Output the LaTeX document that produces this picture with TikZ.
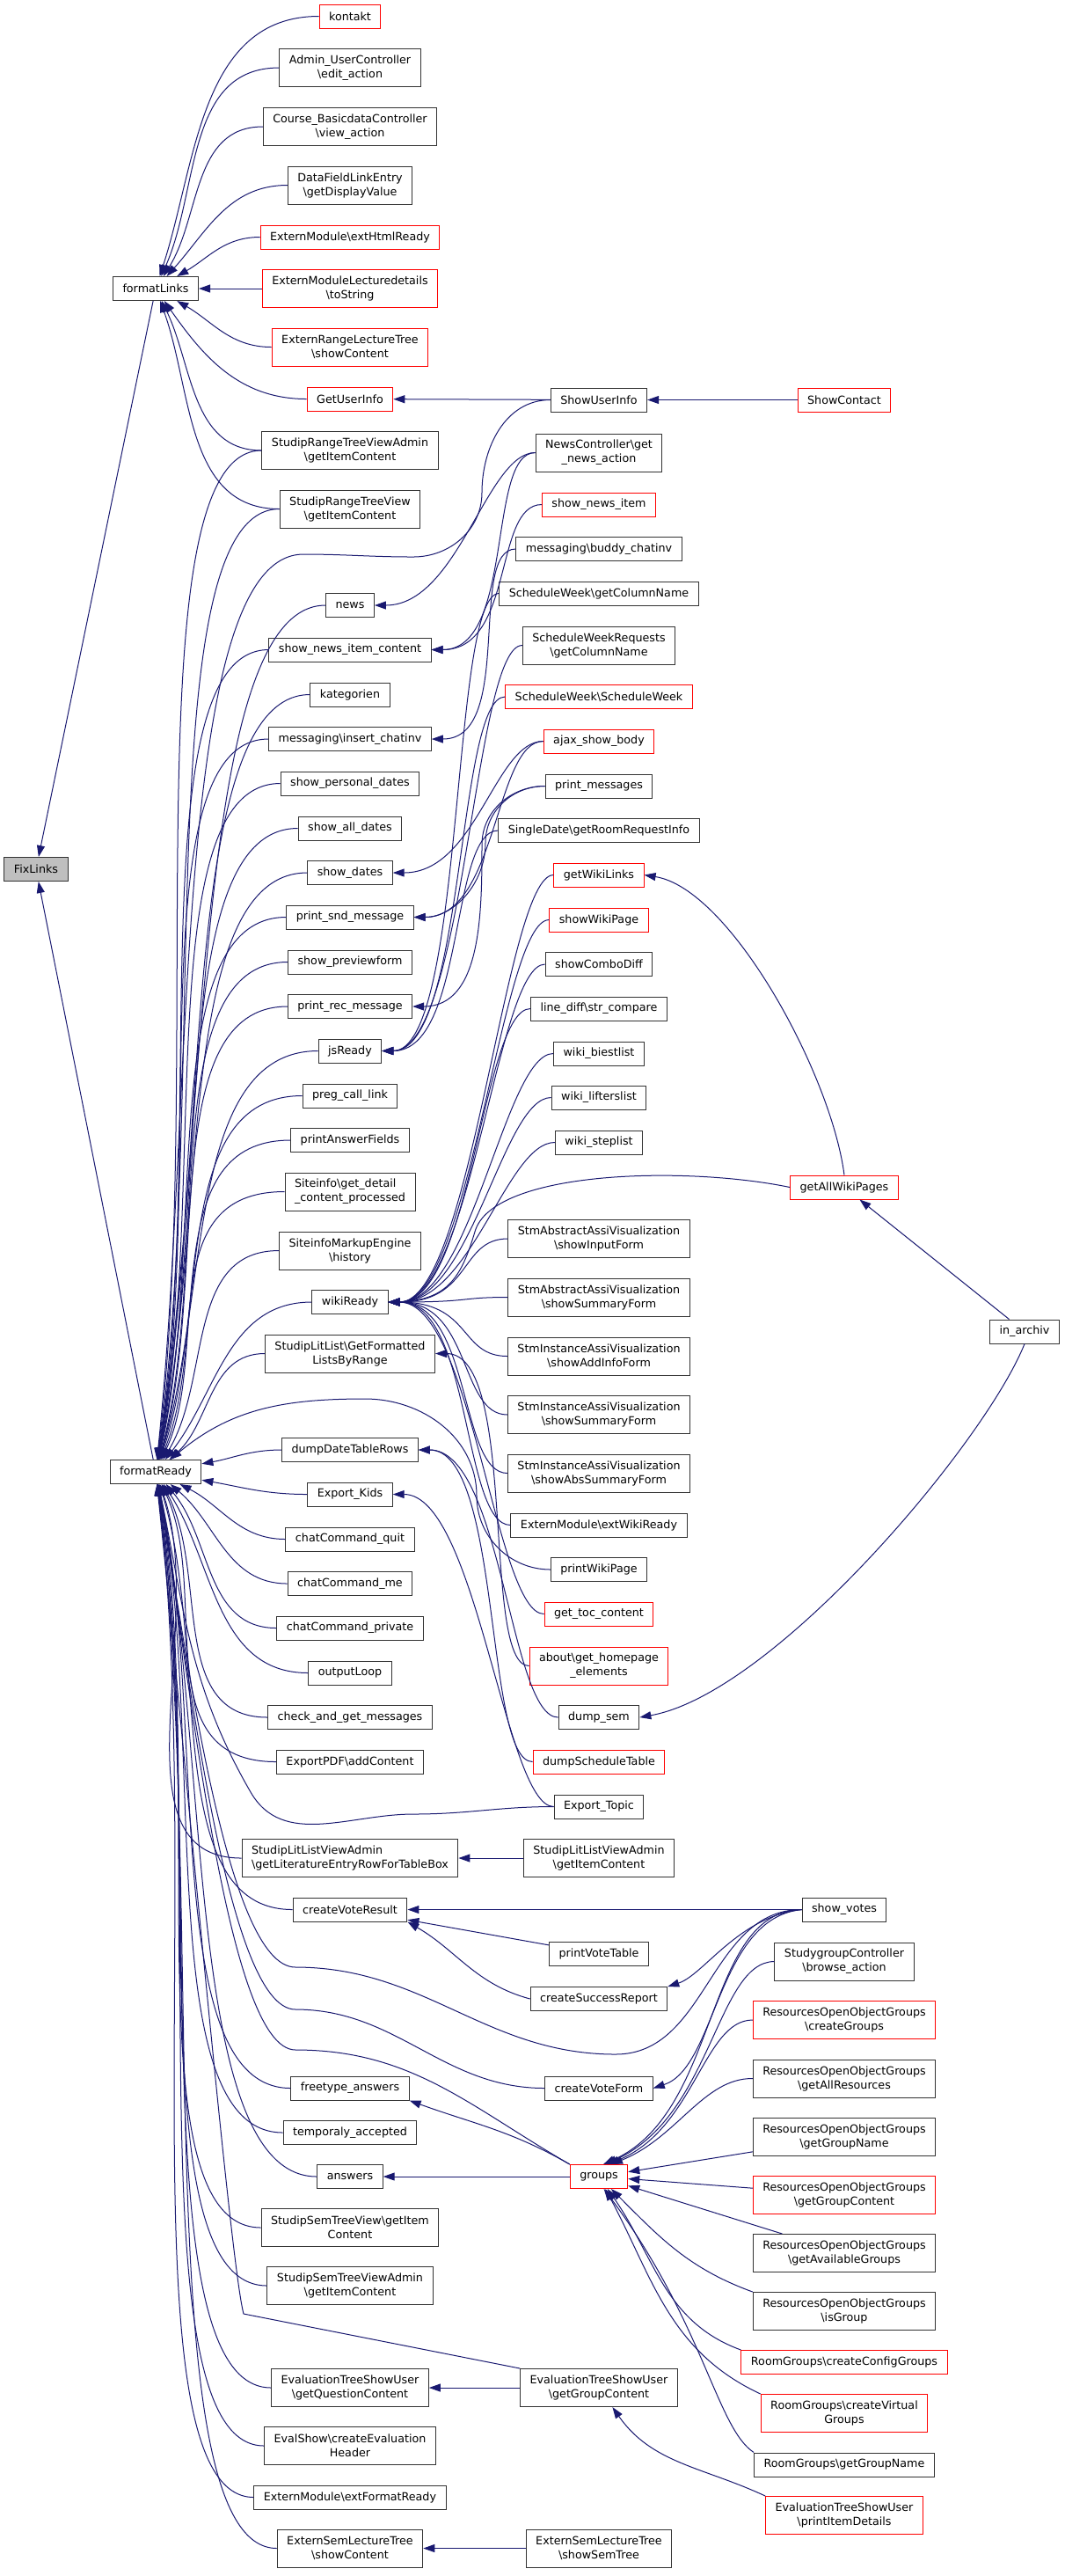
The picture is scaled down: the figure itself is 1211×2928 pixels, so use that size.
\documentclass[tikz,border=0pt]{standalone}
\usepackage{fontspec}
\setmainfont{DejaVu Sans}
\usetikzlibrary{arrows.meta}
\definecolor{edgeblue}{HTML}{191970}
\definecolor{nodegray}{HTML}{BFBFBF}
\definecolor{linkred}{HTML}{FF0000}
\newcommand{\bks}{\textbackslash}

\begin{document}
\begin{tikzpicture}[
    x=0.25pt, y=0.25pt,
    fnbox/.style={draw=black!80, line width=0.25pt, fill=white, font=\fontsize{3.175}{4}\selectfont,
                  inner xsep=2.75pt, inner ysep=0.5pt, minimum height=6.75pt, align=center},
    tall/.style={minimum height=10.75pt},
    undoc/.style={draw=linkred},
    link/.style={draw=edgeblue, line width=0.25pt, -{Triangle[length=3.25pt,width=2.25pt]}},
    longin/.style={out=180, out distance=37.5pt, in looseness=1},
    lane/.style={out=180, in=0, out distance=13.75pt, in distance=23.75pt}
]
\useasboundingbox (0,0) rectangle (1211,-2928);

% function of the graph
\node[fnbox, fill=nodegray] (fixlinks) at (41,-988) {FixLinks};
\node[fnbox] (fmtlinks) at (177,-328) {formatLinks};
\node[fnbox] (fmtready) at (177,-1673) {formatReady};

% callers of formatLinks / formatReady
\node[fnbox, undoc] (kontakt) at (398,-18.5) {kontakt};
\node[fnbox, tall] (adminuc) at (398,-77) {Admin\_UserController\\\bks edit\_action};
\node[fnbox, tall] (coursebd) at (398,-144) {Course\_BasicdataController\\\bks view\_action};
\node[fnbox, tall] (datafield) at (398,-210.5) {DataFieldLinkEntry\\\bks getDisplayValue};
\node[fnbox, undoc] (exthtml) at (398,-269.5) {ExternModule\bks extHtmlReady};
\node[fnbox, undoc, tall] (extlect) at (398,-328) {ExternModuleLecturedetails\\\bks toString};
\node[fnbox, undoc, tall] (extrange) at (398,-394.5) {ExternRangeLectureTree\\\bks showContent};
\node[fnbox, undoc] (getuinfo) at (398,-453.5) {GetUserInfo};
\node[fnbox, tall] (rtvadmin) at (398,-512) {StudipRangeTreeViewAdmin\\\bks getItemContent};
\node[fnbox, tall] (rtview) at (398,-578.5) {StudipRangeTreeView\\\bks getItemContent};
\node[fnbox] (news) at (398,-688) {news};
\node[fnbox] (newsitemc) at (398,-738.5) {show\_news\_item\_content};
\node[fnbox] (kategorien) at (398,-789.5) {kategorien};
\node[fnbox] (insertchat) at (398,-840) {messaging\bks insert\_chatinv};
\node[fnbox] (persdates) at (398,-890.5) {show\_personal\_dates};
\node[fnbox] (alldates) at (398,-941.5) {show\_all\_dates};
\node[fnbox] (showdates) at (398,-992) {show\_dates};
\node[fnbox] (sndmsg) at (398,-1042.5) {print\_snd\_message};
\node[fnbox] (preview) at (398,-1093.5) {show\_previewform};
\node[fnbox] (recmsg) at (398,-1144) {print\_rec\_message};
\node[fnbox] (jsready) at (398,-1194.5) {jsReady};
\node[fnbox] (pregcall) at (398,-1245.5) {preg\_call\_link};
\node[fnbox] (answfields) at (398,-1296) {printAnswerFields};
\node[fnbox, tall, align=left] (sitedetail) at (398,-1354.5) {Siteinfo\bks get\_detail\\\_content\_processed};
\node[fnbox, tall] (sitehist) at (398,-1421.5) {SiteinfoMarkupEngine\\\bks history};
\node[fnbox] (wikiready) at (398,-1480) {wikiReady};
\node[fnbox, tall] (litranges) at (398,-1538.5) {StudipLitList\bks GetFormatted\\ListsByRange};
\node[fnbox] (daterows) at (398,-1648) {dumpDateTableRows};
\node[fnbox] (expkids) at (398,-1698.5) {Export\_Kids};
\node[fnbox] (chatquit) at (398,-1749.5) {chatCommand\_quit};
\node[fnbox] (chatme) at (398,-1800) {chatCommand\_me};
\node[fnbox] (chatpriv) at (398,-1850.5) {chatCommand\_private};
\node[fnbox] (outloop) at (398,-1901.5) {outputLoop};
\node[fnbox] (checkmsgs) at (398,-1952) {check\_and\_get\_messages};
\node[fnbox] (pdfcontent) at (398,-2002.5) {ExportPDF\bks addContent};
\node[fnbox, tall, align=left] (litentry) at (398,-2112) {StudipLitListViewAdmin\\\bks getLiteratureEntryRowForTableBox};
\node[fnbox] (voteresult) at (398,-2170.5) {createVoteResult};
\node[fnbox] (freetype) at (398,-2373.5) {freetype\_answers};
\node[fnbox] (tempacc) at (398,-2424) {temporaly\_accepted};
\node[fnbox] (answers) at (398,-2474) {answers};
\node[fnbox, tall] (semtree) at (398,-2532) {StudipSemTreeView\bks getItem\\Content};
\node[fnbox, tall] (semtreeadm) at (398,-2598) {StudipSemTreeViewAdmin\\\bks getItemContent};
\node[fnbox, tall] (evalquest) at (398,-2714) {EvaluationTreeShowUser\\\bks getQuestionContent};
\node[fnbox, tall] (evalheader) at (398,-2780) {EvalShow\bks createEvaluation\\Header};
\node[fnbox] (extformat) at (398,-2838.5) {ExternModule\bks extFormatReady};
\node[fnbox, tall] (semcontent) at (398,-2896.5) {ExternSemLectureTree\\\bks showContent};

% third column
\node[fnbox] (showuinfo) at (681,-454.5) {ShowUserInfo};
\node[fnbox, tall] (newsaction) at (681,-514.5) {NewsController\bks get\\\_news\_action};
\node[fnbox, undoc] (newsitem) at (681,-573.5) {show\_news\_item};
\node[fnbox] (buddychat) at (681,-624) {messaging\bks buddy\_chatinv};
\node[fnbox] (colname) at (681,-674.5) {ScheduleWeek\bks getColumnName};
\node[fnbox, tall] (reqcolname) at (681,-733.5) {ScheduleWeekRequests\\\bks getColumnName};
\node[fnbox, undoc] (schedweek) at (681,-792) {ScheduleWeek\bks ScheduleWeek};
\node[fnbox, undoc] (ajaxbody) at (681,-842.5) {ajax\_show\_body};
\node[fnbox] (printmsgs) at (681,-893.5) {print\_messages};
\node[fnbox] (roomreq) at (681,-944) {SingleDate\bks getRoomRequestInfo};
\node[fnbox, undoc] (wikilinks) at (681,-994.5) {getWikiLinks};
\node[fnbox, undoc] (wikipage) at (681,-1045.5) {showWikiPage};
\node[fnbox] (combodiff) at (681,-1096) {showComboDiff};
\node[fnbox] (strcompare) at (681,-1146.5) {line\_diff\bks str\_compare};
\node[fnbox] (biestlist) at (681,-1197.5) {wiki\_biestlist};
\node[fnbox] (lifterslist) at (681,-1247.5) {wiki\_lifterslist};
\node[fnbox] (steplist) at (681,-1298.5) {wiki\_steplist};
\node[fnbox, tall] (absinput) at (681,-1408) {StmAbstractAssiVisualization\\\bks showInputForm};
\node[fnbox, tall] (abssummary) at (681,-1474.5) {StmAbstractAssiVisualization\\\bks showSummaryForm};
\node[fnbox, tall] (instaddinfo) at (681,-1541.5) {StmInstanceAssiVisualization\\\bks showAddInfoForm};
\node[fnbox, tall] (instsummary) at (681,-1608) {StmInstanceAssiVisualization\\\bks showSummaryForm};
\node[fnbox, tall] (instabssum) at (681,-1674.5) {StmInstanceAssiVisualization\\\bks showAbsSummaryForm};
\node[fnbox] (extwiki) at (681,-1733.5) {ExternModule\bks extWikiReady};
\node[fnbox] (printwiki) at (681,-1784) {printWikiPage};
\node[fnbox, undoc] (toccontent) at (681,-1834.5) {get\_toc\_content};
\node[fnbox, undoc, tall] (homepage) at (681,-1893.5) {about\bks get\_homepage\\\_elements};
\node[fnbox] (dumpsem) at (681,-1952) {dump\_sem};
\node[fnbox, undoc] (schedtable) at (681,-2002.5) {dumpScheduleTable};
\node[fnbox] (exptopic) at (681,-2053.5) {Export\_Topic};
\node[fnbox, tall] (litviewitem) at (681,-2112) {StudipLitListViewAdmin\\\bks getItemContent};
\node[fnbox] (votetable) at (681,-2221) {printVoteTable};
\node[fnbox] (successrep) at (681,-2272) {createSuccessReport};
\node[fnbox] (voteform) at (681,-2373.5) {createVoteForm};
\node[fnbox, undoc] (groups) at (681,-2474) {groups};
\node[fnbox, tall] (evalgroup) at (681,-2714) {EvaluationTreeShowUser\\\bks getGroupContent};
\node[fnbox, tall] (semtreeshow) at (681,-2896.5) {ExternSemLectureTree\\\bks showSemTree};

% fourth and fifth column
\node[fnbox, undoc] (showcontact) at (960,-454.5) {ShowContact};
\node[fnbox, undoc] (allwiki) at (960,-1349.5) {getAllWikiPages};
\node[fnbox] (showvotes) at (960,-2170.5) {show\_votes};
\node[fnbox, tall] (studygroup) at (960,-2229.5) {StudygroupController\\\bks browse\_action};
\node[fnbox, undoc, tall] (creategroups) at (960,-2296) {ResourcesOpenObjectGroups\\\bks createGroups};
\node[fnbox, tall] (allresources) at (960,-2362.5) {ResourcesOpenObjectGroups\\\bks getAllResources};
\node[fnbox, tall] (groupname) at (960,-2429) {ResourcesOpenObjectGroups\\\bks getGroupName};
\node[fnbox, undoc, tall] (groupcontent) at (960,-2495) {ResourcesOpenObjectGroups\\\bks getGroupContent};
\node[fnbox, tall] (availgroups) at (960,-2561) {ResourcesOpenObjectGroups\\\bks getAvailableGroups};
\node[fnbox, tall] (isgroup) at (960,-2627) {ResourcesOpenObjectGroups\\\bks isGroup};
\node[fnbox, undoc] (configgroups) at (960,-2685) {RoomGroups\bks createConfigGroups};
\node[fnbox, undoc, tall] (virtgroups) at (960,-2743) {RoomGroups\bks createVirtual\\Groups};
\node[fnbox] (rgname) at (960,-2801.5) {RoomGroups\bks getGroupName};
\node[fnbox, undoc, tall] (itemdetails) at (960,-2859) {EvaluationTreeShowUser\\\bks printItemDetails};
\node[fnbox] (inarchiv) at (1165,-1513.5) {in\_archiv};

% calls into FixLinks
\draw[link] (fmtlinks) -- (fixlinks);
\draw[link] (fmtready) -- (fixlinks);

% calls into formatLinks
\draw[link] (kontakt.west) to[out=180,in=72] (fmtlinks);
\draw[link] (adminuc.west) to[out=180,in=66] (fmtlinks);
\draw[link] (coursebd.west) to[out=180,in=58] (fmtlinks);
\draw[link] (datafield.west) to[out=180,in=48] (fmtlinks);
\draw[link] (exthtml.west) to[out=180,in=30] (fmtlinks);
\draw[link] (extlect) -- (fmtlinks);
\draw[link] (extrange.west) to[out=180,in=-30] (fmtlinks);
\draw[link] (getuinfo.west) to[out=180,in=-55] (fmtlinks);
\draw[link] (rtvadmin.west) to[out=180,in=-64] (fmtlinks);
\draw[link] (rtview.west) to[out=180,in=-70] (fmtlinks);

% calls into formatReady
\draw[link] (rtvadmin.west) to[longin,in=83] (fmtready);
\draw[link] (rtview.west) to[longin,in=82] (fmtready);
\draw[link] (news.west) to[longin,in=81] (fmtready);
\draw[link] (newsitemc.west) to[longin,in=81] (fmtready);
\draw[link] (kategorien.west) to[longin,in=80] (fmtready);
\draw[link] (insertchat.west) to[longin,in=80] (fmtready);
\draw[link] (persdates.west) to[longin,in=79] (fmtready);
\draw[link] (alldates.west) to[longin,in=78] (fmtready);
\draw[link] (showdates.west) to[longin,in=78] (fmtready);
\draw[link] (sndmsg.west) to[longin,in=77] (fmtready);
\draw[link] (preview.west) to[longin,in=75] (fmtready);
\draw[link] (recmsg.west) to[longin,in=74] (fmtready);
\draw[link] (jsready.west) to[longin,in=73] (fmtready);
\draw[link] (pregcall.west) to[longin,in=71] (fmtready);
\draw[link] (answfields.west) to[longin,in=68] (fmtready);
\draw[link] (sitedetail.west) to[longin,in=65] (fmtready);
\draw[link] (sitehist.west) to[out=180,in=59] (fmtready);
\draw[link] (wikiready.west) to[out=180,in=52] (fmtready);
\draw[link] (litranges.west) to[out=180,in=42] (fmtready);
\draw[link] (daterows.west) to[out=180,in=10] (fmtready);
\draw[link] (expkids.west) to[out=180,in=-10] (fmtready);
\draw[link] (chatquit.west) to[out=180,in=-27] (fmtready);
\draw[link] (chatme.west) to[out=180,in=-40] (fmtready);
\draw[link] (chatpriv.west) to[out=180,in=-50] (fmtready);
\draw[link] (outloop.west) to[out=180,in=-57] (fmtready);
\draw[link] (checkmsgs.west) to[out=180,in=-62] (fmtready);
\draw[link] (pdfcontent.west) to[longin,in=-65] (fmtready);
\draw[link] (litentry.west) to[longin,in=-71] (fmtready);
\draw[link] (voteresult.west) to[longin,in=-73] (fmtready);
\draw[link] (freetype.west) to[longin,in=-78] (fmtready);
\draw[link] (tempacc.west) to[longin,in=-79] (fmtready);
\draw[link] (answers.west) to[longin,in=-79] (fmtready);
\draw[link] (semtree.west) to[longin,in=-80] (fmtready);
\draw[link] (semtreeadm.west) to[longin,in=-81] (fmtready);
\draw[link] (evalquest.west) to[longin,in=-82] (fmtready);
\draw[link] (evalheader.west) to[longin,in=-82] (fmtready);
\draw[link] (extformat.west) to[longin,in=-83] (fmtready);
\draw[link] (semcontent.west) to[longin,in=-83] (fmtready);

% long calls from the outer columns
\draw[link] (showuinfo.west) to[out=180,in=90] (548,-560) to[out=-90,in=0] (470,-633)
    to[out=180,in=0] (345,-630) to[longin,in=84] (fmtready);
\draw[link] (printwiki.west) to[out=180,in=-90] (542,-1700) to[out=90,in=0] (415,-1590)
    to[out=180,in=40] (fmtready);
\draw[link] (exptopic.west) to[out=180,in=0] (470,-2062) to[out=180,in=-60] (285,-2037)
    to[out=120,in=-78] (fmtready);
\draw[link] (showvotes.west) to[out=180,in=0] (700,-2335) to[out=180,in=0] (336,-2236)
    to[out=180,in=-80,out distance=20pt,in looseness=0.8] (fmtready);
\draw[link] (voteform.west) to[out=180,in=0] (336,-2284)
    to[out=180,in=-80,out distance=20pt,in looseness=0.8] (fmtready);
\draw[link] (groups.north west) to[out=150,in=0] (336,-2330)
    to[out=180,in=-80,out distance=20pt,in looseness=0.8] (fmtready);
\draw[link] (evalgroup.north west) -- (277,-2630)
    to[out=105,in=-84,out distance=15pt,in looseness=0.8] (fmtready);

% third column into second column
\draw[link] (showuinfo) -- (getuinfo);
\draw[link] (showcontact) -- (showuinfo);
\draw[link] (newsaction.west) to[lane] (news);
\draw[link] (newsaction.west) to[lane] (newsitemc);
\draw[link] (newsitem.west) to[lane] (newsitemc);
\draw[link] (buddychat.west) to[lane] (insertchat);
\draw[link] (colname.west) to[lane] (jsready);
\draw[link] (reqcolname.west) to[lane] (jsready);
\draw[link] (schedweek.west) to[lane] (jsready);
\draw[link] (roomreq.west) to[lane] (jsready);
\draw[link] (ajaxbody.west) to[lane] (showdates);
\draw[link] (ajaxbody.west) to[lane] (sndmsg);
\draw[link] (printmsgs.west) to[out=180,in=90] (552,-958) to[out=-90,in=0] (sndmsg.east);
\draw[link] (printmsgs.west) to[out=180,in=90] (548,-960) to[out=-90,in=0] (recmsg.east);
\draw[link] (wikilinks.west) to[lane] (wikiready);
\draw[link] (wikipage.west) to[lane] (wikiready);
\draw[link] (combodiff.west) to[lane] (wikiready);
\draw[link] (strcompare.west) to[lane] (wikiready);
\draw[link] (biestlist.west) to[lane] (wikiready);
\draw[link] (lifterslist.west) to[lane] (wikiready);
\draw[link] (steplist.west) to[lane] (wikiready);
\draw[link] (absinput.west) to[lane] (wikiready);
\draw[link] (abssummary.west) to[lane] (wikiready);
\draw[link] (instaddinfo.west) to[lane] (wikiready);
\draw[link] (instsummary.west) to[lane] (wikiready);
\draw[link] (instabssum.west) to[lane] (wikiready);
\draw[link] (extwiki.west) to[lane] (wikiready);
\draw[link] (toccontent.west) to[lane] (wikiready);
\draw[link] (homepage.west) to[lane] (litranges);
\draw[link] (dumpsem.west) to[lane] (daterows);
\draw[link] (schedtable.west) to[lane] (daterows);
\draw[link] (exptopic.west) to[lane] (expkids);
\draw[link] (litviewitem) -- (litentry);
\draw[link] (showvotes) -- (voteresult);
\draw[link] (votetable) -- (voteresult);
\draw[link] (successrep.west) to[out=165,in=-30] (voteresult.south east);
\draw[link] (groups.north west) to[out=150,in=-20] (freetype.south east);
\draw[link] (groups) -- (answers);
\draw[link] (evalgroup) -- (evalquest);
\draw[link] (semtreeshow) -- (semcontent);

% wiki pages and archive
\draw[link] (allwiki.west) .. controls (780,-1325) and (560,-1330) .. (540,-1400)
    .. controls (525,-1450) and (510,-1478) .. (wikiready.east);
\draw[link] (allwiki.north) .. controls (945,-1220) and (830,-1010) .. (wikilinks.east);
\draw[link] (inarchiv) -- (allwiki);
\draw[link] (inarchiv.south) .. controls (1120,-1640) and (880,-1925) .. (dumpsem.east);

% votes and groups
\draw[link] (showvotes.west) .. controls (840,-2178) and (800,-2245) .. (successrep.north east);
\draw[link] (showvotes.west) .. controls (815,-2180) and (815,-2350) .. (voteform.east);
\draw[link] (showvotes.west) .. controls (800,-2172) and (820,-2400) .. (groups.70);
\draw[link] (studygroup.west) .. controls (815,-2230) and (810,-2405) .. (groups.62);
\draw[link] (creategroups.west) .. controls (800,-2296) and (790,-2420) .. (groups.54);
\draw[link] (allresources.west) .. controls (800,-2362) and (770,-2430) .. (groups.45);
\draw[link] (groupname) -- (groups);
\draw[link] (groupcontent) -- (groups);
\draw[link] (availgroups) -- (groups);
\draw[link] (isgroup.north west) to[out=160,in=-45] (groups);
\draw[link] (configgroups.north west) to[out=160,in=-55] (groups);
\draw[link] (virtgroups.north west) to[out=155,in=-62] (groups);
\draw[link] (rgname.north west) .. controls (815,-2760) and (800,-2640) .. (groups.-68);
\draw[link] (itemdetails.north west) to[out=155,in=-55] (evalgroup);
\end{tikzpicture}
\end{document}
